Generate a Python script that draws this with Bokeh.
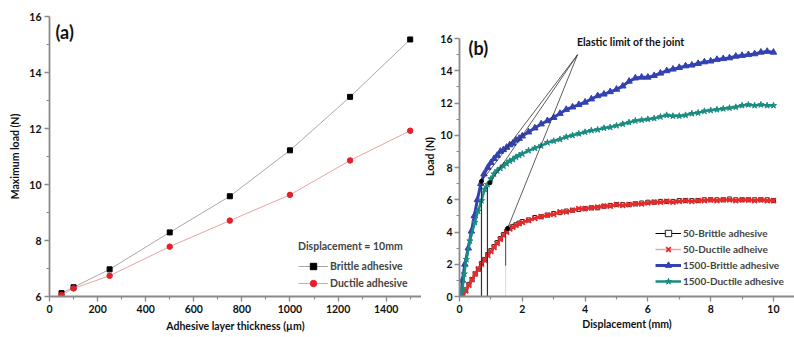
from bokeh.plotting import figure
from bokeh.layouts import row
from bokeh.models import Legend, LegendItem, Label, Range1d, FixedTicker
from bokeh.embed import file_html
from bokeh.resources import INLINE

FONT = "Lato"

# ---------------- (a) maximum load vs. adhesive layer thickness ----------------
thickness_um = [50, 100, 250, 500, 750, 1000, 1250, 1500]
max_load_brittle = [6.12, 6.33, 6.97, 8.29, 9.58, 11.22, 13.13, 15.18]
max_load_ductile = [6.05, 6.29, 6.74, 7.78, 8.71, 9.63, 10.86, 11.92]

# ---------------- (b) load-displacement curves ----------------
disp_1500_brittle = [0.05, 0.09, 0.17, 0.28, 0.38, 0.47, 0.57, 0.68, 0.78, 0.90,
                     1.00, 1.10, 1.20, 1.30, 1.40, 1.50, 1.60, 1.70, 1.80, 1.90,
                     2.0, 2.2, 2.4, 2.6, 2.8, 3.0, 3.2, 3.4, 3.6, 3.8,
                     4.0, 4.2, 4.4, 4.6, 4.8, 5.0, 5.2, 5.4, 5.6, 5.8,
                     6.0, 6.2, 6.4, 6.6, 6.8, 7.0, 7.2, 7.4, 7.6, 7.8,
                     8.0, 8.2, 8.4, 8.6, 8.8, 9.0, 9.2, 9.4, 9.6, 9.8, 10.0]
load_1500_brittle = [0.0, 1.0, 2.0, 3.0, 4.05, 5.0, 6.0, 7.0, 7.6, 8.0,
                     8.3, 8.55, 8.75, 9.0, 9.1, 9.25, 9.4, 9.5, 9.7, 9.8,
                     9.95, 10.2, 10.45, 10.7, 10.9, 11.1, 11.35, 11.6, 11.75, 11.9,
                     12.05, 12.25, 12.45, 12.55, 12.7, 12.85, 13.05, 13.35, 13.55, 13.6,
                     13.6, 13.7, 13.85, 14.0, 14.1, 14.2, 14.3, 14.35, 14.45, 14.55,
                     14.6, 14.7, 14.75, 14.8, 14.9, 14.95, 15.0, 15.05, 15.15, 15.2, 15.15]

disp_1500_ductile = [0.05, 0.10, 0.15, 0.22, 0.33, 0.49, 0.59, 0.70, 0.80, 0.89,
                     1.00, 1.10, 1.20, 1.30, 1.40, 1.50, 1.60, 1.70, 1.80, 1.90,
                     2.0, 2.2, 2.4, 2.6, 2.8, 3.0, 3.2, 3.4, 3.6, 3.8,
                     4.0, 4.2, 4.4, 4.6, 4.8, 5.0, 5.2, 5.4, 5.6, 5.8,
                     6.0, 6.2, 6.4, 6.6, 6.8, 7.0, 7.2, 7.4, 7.6, 7.8,
                     8.0, 8.2, 8.4, 8.6, 8.8, 9.0, 9.2, 9.4, 9.6, 9.8, 10.0]
load_1500_ductile = [0.0, 0.5, 1.4, 2.3, 3.45, 4.6, 5.3, 5.95, 6.65, 6.95,
                     7.3, 7.6, 7.8, 7.95, 8.1, 8.25, 8.4, 8.5, 8.65, 8.75,
                     8.85, 9.05, 9.2, 9.35, 9.55, 9.65, 9.75, 9.9, 10.0, 10.1,
                     10.2, 10.3, 10.35, 10.45, 10.5, 10.6, 10.7, 10.8, 10.9, 10.95,
                     11.0, 11.05, 11.15, 11.25, 11.2, 11.2, 11.25, 11.35, 11.4, 11.5,
                     11.55, 11.6, 11.65, 11.7, 11.75, 11.85, 11.9, 11.85, 11.9, 11.85, 11.85]

disp_50 = [0.10, 0.2, 0.3, 0.4, 0.5, 0.6, 0.7, 0.8, 0.9, 1.0,
           1.1, 1.2, 1.3, 1.4, 1.5, 1.6, 1.7, 1.8, 1.9, 2.0,
           2.2, 2.4, 2.6, 2.8, 3.0, 3.2, 3.4, 3.6, 3.8, 4.0,
           4.2, 4.4, 4.6, 4.8, 5.0, 5.2, 5.4, 5.6, 5.8, 6.0,
           6.2, 6.4, 6.6, 6.8, 7.0, 7.2, 7.4, 7.6, 7.8, 8.0,
           8.2, 8.4, 8.6, 8.8, 9.0, 9.2, 9.4, 9.6, 9.8, 10.0]
load_50_brittle = [0.0, 0.4, 0.75, 1.05, 1.4, 1.7, 2.05, 2.3, 2.6, 2.85,
                   3.1, 3.35, 3.6, 3.85, 4.05, 4.25, 4.35, 4.45, 4.55, 4.65,
                   4.75, 4.9, 4.95, 5.05, 5.15, 5.2, 5.3, 5.35, 5.4, 5.45,
                   5.5, 5.5, 5.6, 5.65, 5.7, 5.7, 5.7, 5.75, 5.8, 5.85,
                   5.85, 5.9, 5.9, 5.9, 5.95, 5.95, 5.95, 5.95, 6.0, 6.0,
                   6.0, 6.0, 6.05, 6.0, 6.0, 6.0, 6.0, 6.0, 6.0, 5.95]
load_50_ductile = [0.0, 0.35, 0.7, 1.05, 1.4, 1.7, 2.0, 2.25, 2.55, 2.8,
                   3.05, 3.3, 3.55, 3.8, 4.0, 4.2, 4.3, 4.42, 4.52, 4.6,
                   4.72, 4.85, 4.95, 5.05, 5.1, 5.25, 5.25, 5.35, 5.45, 5.45,
                   5.5, 5.55, 5.6, 5.6, 5.7, 5.65, 5.7, 5.75, 5.75, 5.8,
                   5.85, 5.85, 5.9, 5.85, 5.9, 5.95, 5.9, 5.95, 5.95, 6.0,
                   5.95, 6.0, 6.0, 5.95, 6.0, 6.0, 5.95, 6.0, 5.95, 5.95]

# elastic limit of the joint for 1500-brittle, 1500-ductile and 50 um series
elastic_disp = [0.70, 0.97, 1.53]
elastic_load = [7.15, 7.05, 4.22]
elastic_drop_disp = [0.70, 0.89, 1.47]
elastic_drop_top = [7.05, 6.8, 4.2]
elastic_drop_bottom = [0.0, 0.0, 1.9]
callout_tip = (3.76, 15.0)

AXIS_GREY = "#8a8a8a"


def style_axes(p):
    p.outline_line_color = None
    p.xgrid.visible = False
    p.ygrid.visible = False
    p.background_fill_color = "white"
    p.border_fill_color = "white"
    for ax in (p.xaxis[0], p.yaxis[0]):
        ax.axis_line_color = AXIS_GREY
        ax.axis_line_width = 1.8
        ax.major_tick_line_color = AXIS_GREY
        ax.minor_tick_line_color = AXIS_GREY
        ax.major_tick_line_width = 1.3
        ax.minor_tick_line_width = 1.2
        ax.major_tick_in = 0
        ax.major_tick_out = 5
        ax.minor_tick_in = 0
        ax.minor_tick_out = 3
        ax.major_label_text_font = FONT
        ax.major_label_text_font_style = "bold"
        ax.major_label_text_font_size = "10.5px"
        ax.major_label_text_color = "#111111"
        ax.axis_label_text_font = FONT
        ax.axis_label_text_font_style = "bold"
        ax.axis_label_text_font_size = "10.5px"
        ax.axis_label_text_color = "#111111"
    p.xaxis[0].major_label_standoff = 3
    p.yaxis[0].major_label_standoff = 3


def style_legend(leg, glyph_width):
    leg.label_text_font = FONT
    leg.label_text_font_style = "bold"
    leg.label_text_font_size = "10.5px"
    leg.glyph_width = glyph_width
    leg.glyph_height = 16
    leg.label_height = 16
    leg.label_standoff = 2
    leg.spacing = 0
    leg.padding = 0
    leg.margin = 0
    leg.background_fill_alpha = 0
    leg.border_line_alpha = 0


# ---------------- panel (a) ----------------
pa = figure(width=421, height=337, output_backend="svg", toolbar_location=None,
            x_range=Range1d(0, 1547), y_range=Range1d(6, 16),
            min_border_left=49, min_border_right=0, min_border_top=16, min_border_bottom=41)
style_axes(pa)
pa.xaxis[0].ticker = FixedTicker(ticks=[0, 200, 400, 600, 800, 1000, 1200, 1400],
                                 minor_ticks=[100, 300, 500, 700, 900, 1100, 1300, 1500])
pa.yaxis[0].ticker = FixedTicker(ticks=[6, 8, 10, 12, 14, 16], minor_ticks=[7, 9, 11, 13, 15])
pa.xaxis.axis_label = "Adhesive layer thickness (\u00b5m)"
pa.yaxis.axis_label = "Maximum load (N)"
pa.xaxis[0].axis_label_standoff = 4
pa.yaxis[0].axis_label_standoff = 5

la1 = pa.line(thickness_um, max_load_brittle, line_color="#a8a8a8", line_width=1)
sa1 = pa.scatter(thickness_um, max_load_brittle, marker="square", size=5,
                 fill_color="black", line_color="black")
la2 = pa.line(thickness_um, max_load_ductile, line_color="#e7a3a3", line_width=1)
sa2 = pa.scatter(thickness_um, max_load_ductile, marker="circle", size=5.5,
                 fill_color="#e5202a", line_color="#e5202a")

leg_a = Legend(items=[LegendItem(label="Brittle adhesive", renderers=[la1, sa1]),
                      LegendItem(label="Ductile adhesive", renderers=[la2, sa2])],
               location=(249, 5), title="Displacement = 10mm")
style_legend(leg_a, 30)
leg_a.title_text_font = FONT
leg_a.title_text_font_style = "bold"
leg_a.title_text_font_size = "10.5px"
leg_a.title_standoff = 6
leg_a.spacing = 1
pa.add_layout(leg_a)

pa.add_layout(Label(x=25, y=15.46, text="(a)", text_font=FONT, text_font_style="bold",
                    text_font_size="18px", text_baseline="middle", text_color="#111111"))

# ---------------- panel (b) ----------------
# the load range runs a little above 16 so the frame top lines up with panel (a);
# the axis itself is bounded to 0-16
pb = figure(width=373, height=337, output_backend="svg", toolbar_location=None,
            x_range=Range1d(0, 10.67), y_range=Range1d(0, 17.37),
            min_border_left=32, min_border_right=0, min_border_top=16, min_border_bottom=41)
style_axes(pb)
pb.xaxis[0].ticker = FixedTicker(ticks=[0, 2, 4, 6, 8, 10], minor_ticks=[1, 3, 5, 7, 9])
pb.yaxis[0].ticker = FixedTicker(ticks=[0, 2, 4, 6, 8, 10, 12, 14, 16],
                                 minor_ticks=[1, 3, 5, 7, 9, 11, 13, 15])
pb.yaxis[0].bounds = (0, 16)
pb.xaxis.axis_label = "Displacement (mm)"
pb.yaxis.axis_label = "Load (N)"
pb.xaxis[0].axis_label_standoff = 2
pb.yaxis[0].axis_label_standoff = 1
pb.yaxis[0].major_label_standoff = 2

# 50 um joints
lb1 = pb.line(disp_50, load_50_brittle, line_color="black", line_width=1)
sb1 = pb.scatter(disp_50, load_50_brittle, marker="square", size=4,
                 fill_color="white", line_color="#222222", line_width=1)
lb2 = pb.line(disp_50, load_50_ductile, line_color="#eea0a0", line_width=1.5)
sb2 = pb.scatter(disp_50, load_50_ductile, marker="x", size=7,
                 line_color="#e62a2a", line_width=1.8)
pb.line(disp_50, load_50_ductile, line_color="#e62a2a", line_width=2.5)

# 1500 um joints
lb3 = pb.line(disp_1500_brittle, load_1500_brittle, line_color="#3342b0", line_width=3)
sb3 = pb.scatter(disp_1500_brittle, load_1500_brittle, marker="triangle", size=6.5,
                 fill_color="#3342b0", line_color="#3342b0")
lb4 = pb.line(disp_1500_ductile, load_1500_ductile, line_color="#1b8c82", line_width=2.5)
sb4 = pb.scatter(disp_1500_ductile, load_1500_ductile, marker="star", size=6.5,
                 fill_color="#1b8c82", line_color="#1b8c82")

# elastic-limit markers, drop lines and callout
pb.segment(x0=elastic_drop_disp[:2], y0=elastic_drop_bottom[:2],
           x1=elastic_drop_disp[:2], y1=elastic_drop_top[:2],
           line_color="#333333", line_width=1.2)
pb.segment(x0=[elastic_drop_disp[2]], y0=[elastic_drop_bottom[2]],
           x1=[elastic_drop_disp[2]], y1=[elastic_drop_top[2]],
           line_color="#444444", line_width=1)
pb.segment(x0=[elastic_drop_disp[2]], y0=[0], x1=[elastic_drop_disp[2]],
           y1=[elastic_drop_bottom[2]], line_color="#d8d8d8", line_width=1)
pb.segment(x0=[callout_tip[0]] * 3, y0=[callout_tip[1]] * 3,
           x1=elastic_disp, y1=elastic_load, line_color="#333333", line_width=0.8)
pb.scatter(elastic_disp, elastic_load, marker="circle", size=4,
           fill_color="black", line_color="black")

pb.add_layout(Label(x=3.74, y=15.76, text="Elastic limit of the joint", text_font=FONT,
                    text_font_style="bold", text_font_size="10.5px", text_baseline="middle",
                    text_color="#111111"))
pb.add_layout(Label(x=0.29, y=15.4, text="(b)", text_font=FONT, text_font_style="bold",
                    text_font_size="18px", text_baseline="middle", text_color="#111111"))

leg_b = Legend(items=[LegendItem(label="50-Brittle adhesive", renderers=[lb1, sb1]),
                      LegendItem(label="50-Ductile adheive", renderers=[lb2, sb2]),
                      LegendItem(label="1500-Brittle adhesive", renderers=[lb3, sb3]),
                      LegendItem(label="1500-Ductile adhesive", renderers=[lb4, sb4])],
               location=(196, 7))
style_legend(leg_b, 26)
leg_b.label_text_font_size = "10px"
pb.add_layout(leg_b)

layout = row(pa, pb)
open("out.html", "w").write(file_html(layout, INLINE))
